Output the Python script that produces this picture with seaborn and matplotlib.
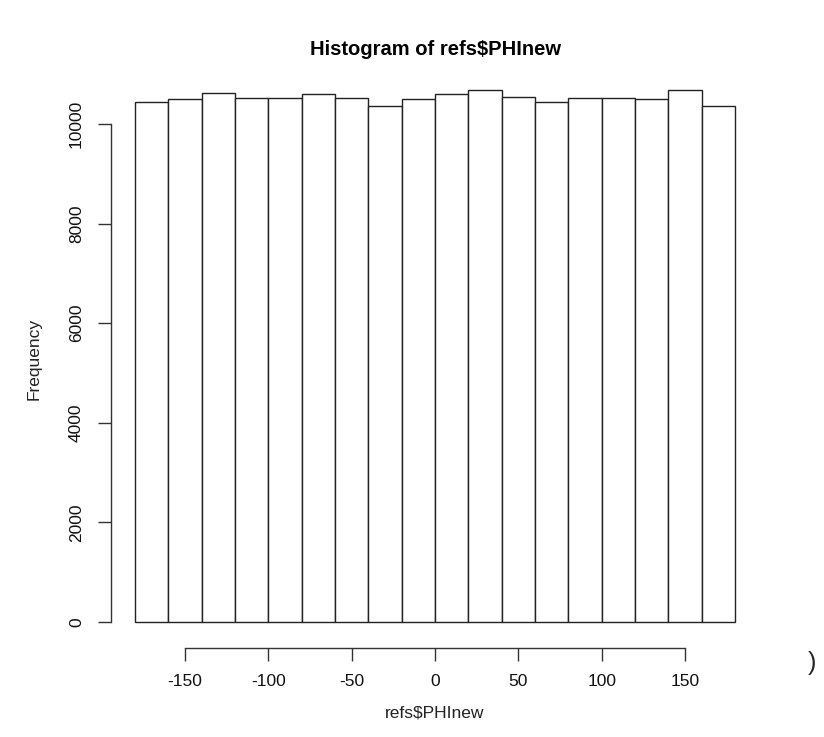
import numpy as np
import matplotlib
matplotlib.use('Agg')
import matplotlib.pyplot as plt
import seaborn as sns

# bin breaks (width 20) and counts
breaks = list(range(-180, 181, 20))
counts = [10440, 10500, 10620, 10530, 10520, 10595, 10530, 10360, 10500,
          10595, 10680, 10535, 10450, 10530, 10530, 10500, 10680, 10360]
xticks = [-150, -100, -50, 0, 50, 100, 150]
yticks = [0, 2000, 4000, 6000, 8000, 10000]

centers = [(a + b) / 2 for a, b in zip(breaks[:-1], breaks[1:])]

sns.set_style('white')
plt.rcParams['font.family'] = ['Liberation Sans', 'DejaVu Sans']
plt.rcParams['axes.unicode_minus'] = False

fig = plt.figure(figsize=(8.24, 7.37), dpi=100)
ax = fig.add_axes([111 / 824, 89 / 737, 648 / 824, 579 / 737])

sns.histplot(x=centers, weights=counts, bins=breaks, ax=ax,
             color='white', edgecolor='#222222', linewidth=1.0, alpha=1)

ax.set_xlim(-194.4, 194.4)
ax.set_ylim(-522, 11104)
ax.set_xticks(xticks)
ax.set_yticks(yticks)
ax.set_yticklabels([str(v) for v in yticks], rotation=90, va='center')

for s in ['top', 'right']:
    ax.spines[s].set_visible(False)
ax.spines['left'].set_bounds(0, 10000)
ax.spines['bottom'].set_bounds(-150, 150)
for s in ['left', 'bottom']:
    ax.spines[s].set_color('#333333')
    ax.spines[s].set_linewidth(1.0)
ax.tick_params(axis='both', direction='out', length=9.5, width=1.0,
               color='#333333', labelsize=12.5, labelcolor='#111111',
               left=True, bottom=True)
ax.tick_params(axis='x', pad=9)
ax.tick_params(axis='y', pad=10)

ax.set_xlabel('refs$PHInew', fontsize=12.5, labelpad=12, color='#222222')
ax.set_ylabel('Frequency', fontsize=12.5, labelpad=20, color='#222222')
ax.set_title('Histogram of refs$PHInew', fontsize=14.5, fontweight='bold',
             pad=10, color='black')

fig.text(812 / 824, 1 - 663 / 737, ')', fontsize=18, ha='center', va='center')

fig.savefig('out.png', dpi=100)
